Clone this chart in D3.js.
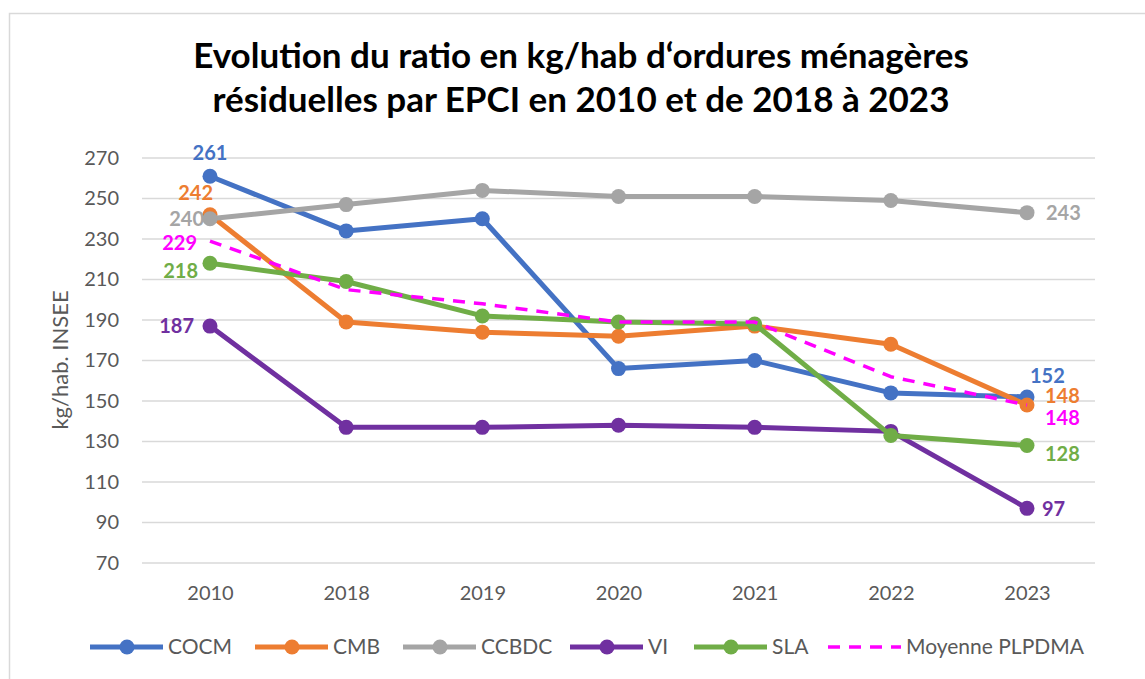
<!DOCTYPE html>
<meta charset="utf-8">
<script src="https://d3js.org/d3.v7.min.js"></script>
<style>
  body { margin: 0; background: #fff; }
  text { font-family: Lato, "Open Sans", sans-serif; }
</style>
<div id="chart"></div>
<script>
// data
var years = ["2010", "2018", "2019", "2020", "2021", "2022", "2023"];
var yTicks = [70, 90, 110, 130, 150, 170, 190, 210, 230, 250, 270];
var cocm = [261, 234, 240, 166, 170, 154, 152];
var cmb = [242, 189, 184, 182, 187, 178, 148];
var ccbdc = [240, 247, 254, 251, 251, 249, 243];
var vi = [187, 137, 137, 138, 137, 135, 97];
var sla = [218, 209, 192, 189, 188, 133, 128];
var moyenne = [229, 205, 198, 189, 189, 162, 148];

var W = 1145, H = 679;
var svg = d3.select("#chart").append("svg").attr("width", W).attr("height", H);

// chart frame
svg.append("rect").attr("x", 9.5).attr("y", 13.5).attr("width", W + 10).attr("height", H + 10)
  .attr("fill", "none").attr("stroke", "#d9d9d9").attr("stroke-width", 1.5);

var x = d3.scalePoint().domain(years).range([210, 1027]);
var y = d3.scaleLinear().domain([70, 270]).range([563, 158]);

// gridlines
svg.append("g").selectAll("line").data(yTicks).enter().append("line")
  .attr("x1", 142).attr("x2", 1095)
  .attr("y1", function(d) { return y(d); }).attr("y2", function(d) { return y(d); })
  .attr("stroke", "#d9d9d9").attr("stroke-width", 1.5);

// y axis
var yAxis = svg.append("g").attr("transform", "translate(142,0)")
  .call(d3.axisLeft(y).tickValues(yTicks).tickSize(0).tickPadding(23));
yAxis.select(".domain").remove();
yAxis.selectAll("text").attr("fill", "#595959").style("font-size", "20px").style("font-family", "Lato, sans-serif");

// x axis
var xAxis = svg.append("g").attr("transform", "translate(0,563)")
  .call(d3.axisBottom(x).tickSize(0).tickPadding(23));
xAxis.select(".domain").remove();
xAxis.selectAll("text").attr("fill", "#595959").style("font-size", "20px").style("font-family", "Lato, sans-serif");

svg.append("text").attr("transform", "translate(68,360) rotate(-90)")
  .attr("text-anchor", "middle").attr("fill", "#595959").style("font-size", "22px")
  .text("kg/hab. INSEE");

// title
svg.append("text").attr("x", 581).attr("y", 68).attr("text-anchor", "middle")
  .style("font-size", "35px").style("font-weight", "bold").attr("fill", "#000")
  .text("Evolution du ratio en kg/hab d\u2018ordures ménagères");
svg.append("text").attr("x", 581).attr("y", 112).attr("text-anchor", "middle")
  .style("font-size", "35px").style("font-weight", "bold").attr("fill", "#000")
  .text("résiduelles par EPCI en 2010 et de 2018 à 2023");

var series = [
  { name: "COCM", values: cocm, color: "#4472C4", marker: true,
    first: { dx: 0, dy: -23, anchor: "middle" }, last: { dx: 3, dy: -21, anchor: "start" } },
  { name: "CMB", values: cmb, color: "#ED7D31", marker: true,
    first: { dx: 3, dy: -22, anchor: "end" }, last: { dx: 18, dy: -9, anchor: "start" } },
  { name: "CCBDC", values: ccbdc, color: "#A5A5A5", marker: true,
    first: { dx: -6, dy: 0, anchor: "end" }, last: { dx: 19, dy: 0, anchor: "start" } },
  { name: "VI", values: vi, color: "#7030A0", marker: true,
    first: { dx: -16, dy: 0, anchor: "end" }, last: { dx: 15, dy: 1, anchor: "start" } },
  { name: "SLA", values: sla, color: "#70AD47", marker: true,
    first: { dx: -12, dy: 8, anchor: "end" }, last: { dx: 18, dy: 8, anchor: "start" } },
  { name: "Moyenne PLPDMA", values: moyenne, color: "#FF00FF", marker: false,
    first: { dx: -13, dy: 2, anchor: "end" }, last: { dx: 18, dy: 13, anchor: "start" } }
];

var line = d3.line().x(function(d, i) { return x(years[i]); }).y(function(d) { return y(d); });

series.forEach(function(s) {
  var g = svg.append("g");
  g.append("path").datum(s.values).attr("d", line)
    .attr("fill", "none").attr("stroke", s.color)
    .attr("stroke-width", s.marker ? 5 : 3.5)
    .attr("stroke-dasharray", s.marker ? null : "12,9")
    .attr("stroke-linejoin", "round");
  if (s.marker) {
    g.selectAll("circle").data(s.values).enter().append("circle")
      .attr("cx", function(d, i) { return x(years[i]); })
      .attr("cy", function(d) { return y(d); })
      .attr("r", 7.5).attr("fill", s.color);
  }
  [[0, s.first], [s.values.length - 1, s.last]].forEach(function(p) {
    var i = p[0], o = p[1];
    g.append("text")
      .attr("x", x(years[i]) + o.dx).attr("y", y(s.values[i]) + o.dy)
      .attr("dy", "0.35em").attr("text-anchor", o.anchor)
      .attr("fill", s.color).style("font-size", "20px").style("font-weight", "bold")
      .text(s.values[i]);
  });
});

// legend
var legendX = [90, 255, 403, 570, 694, 828];
var legend = svg.append("g").attr("transform", "translate(0,647)");
series.forEach(function(s, i) {
  var lg = legend.append("g").attr("transform", "translate(" + legendX[i] + ",0)");
  lg.append("line").attr("x1", 0).attr("x2", 73).attr("y1", 0).attr("y2", 0)
    .attr("stroke", s.color).attr("stroke-width", s.marker ? 5 : 3.5)
    .attr("stroke-dasharray", s.marker ? null : "12,9");
  if (s.marker) lg.append("circle").attr("cx", 37).attr("cy", 0).attr("r", 7.5).attr("fill", s.color);
  lg.append("text").attr("x", 78).attr("dy", "0.35em").attr("fill", "#595959")
    .style("font-size", "21px").text(s.name);
});
</script>
